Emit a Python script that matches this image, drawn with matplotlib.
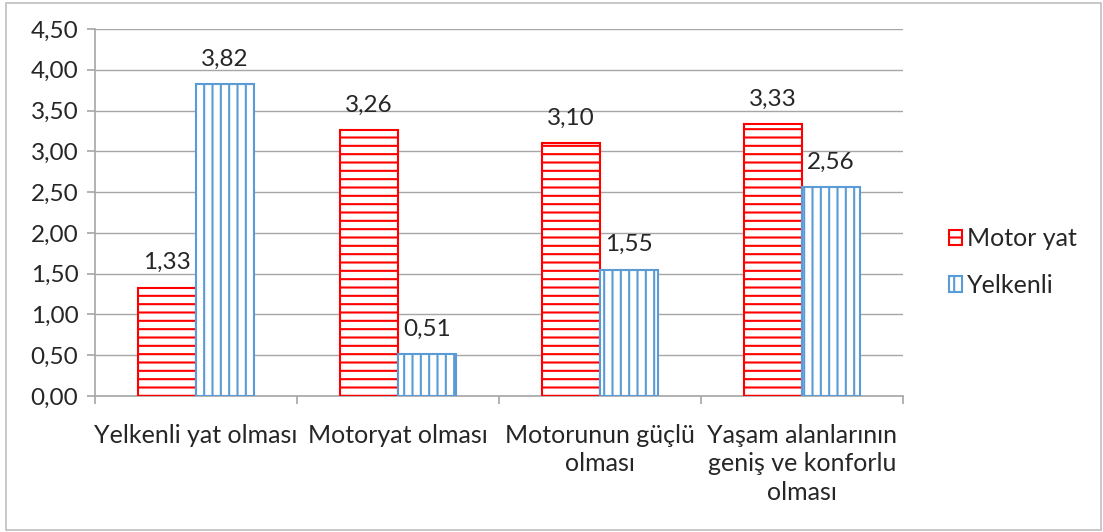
import matplotlib
matplotlib.use("Agg")
import matplotlib.pyplot as plt
from matplotlib.patches import Rectangle
from matplotlib.ticker import FuncFormatter, FixedLocator
import numpy as np

categories = ["Yelkenli yat olması", "Motoryat olması", "Motorunun güçlü\nolması",
              "Yaşam alanlarının\ngeniş ve konforlu\nolması"]
motor_yat = [1.33, 3.26, 3.10, 3.33]
yelkenli = [3.82, 0.51, 1.55, 2.56]
series_names = ["Motor yat", "Yelkenli"]

plt.rcParams['font.family'] = ['Lato', 'DejaVu Sans']
plt.rcParams['hatch.linewidth'] = 1.5

W, H = 1103, 532
fig = plt.figure(figsize=(W/100, H/100), dpi=100)
ax = fig.add_axes([95/W, 1-396/H, 808/W, (396-29)/H])

fig.patches.append(Rectangle((6/W, 2/H), (1101-6)/W, (529-2)/H, transform=fig.transFigure,
                             fill=False, edgecolor='#BFBFBF', lw=1.2))

x = np.arange(len(categories))
bw = 0.287
red = '#FF0000'
blue = '#5B9BD5'
b1 = ax.bar(x - bw/2, motor_yat, bw, facecolor='white', edgecolor=red, hatch='--', lw=1.5,
            label=series_names[0], zorder=3)
b2 = ax.bar(x + bw/2, yelkenli, bw, facecolor='white', edgecolor=blue, hatch='||', lw=1.5,
            label=series_names[1], zorder=3)

fmt = lambda v: f"{v:.2f}".replace('.', ',')
for rects, vals in ((b1, motor_yat), (b2, yelkenli)):
    for r, v in zip(rects, vals):
        ax.text(r.get_x() + r.get_width()/2, v + 0.18, fmt(v), ha='center', va='bottom',
                fontsize=17.5, color='#262626')

ax.set_xlim(-0.5, len(categories) - 0.5)
ax.set_ylim(0, 4.5)
ax.set_yticks(np.arange(0, 4.51, 0.5))
ax.yaxis.set_major_formatter(FuncFormatter(lambda v, p: fmt(v)))
ax.grid(axis='y', color='#A6A6A6', lw=1.0, zorder=0)
ax.set_axisbelow(True)

ax.xaxis.set_major_locator(FixedLocator(np.arange(-0.5, len(categories), 1.0)))
ax.xaxis.set_major_formatter(FuncFormatter(lambda v, p: ''))
ax.xaxis.set_minor_locator(FixedLocator(x))
ax.set_xticklabels(categories, minor=True)
ax.tick_params(axis='x', which='minor', length=0, labelsize=18, pad=20, labelcolor='#262626')
ax.tick_params(axis='x', which='major', length=6, color='#A6A6A6', width=1.2)
ax.tick_params(axis='y', length=6, color='#A6A6A6', width=1.2, labelsize=17.5, labelcolor='#262626', pad=6)
for lab in ax.get_xticklabels(minor=True):
    lab.set_linespacing(1.3)

for s in ['top', 'right']:
    ax.spines[s].set_visible(False)
for s in ['left', 'bottom']:
    ax.spines[s].set_color('#A6A6A6')
    ax.spines[s].set_linewidth(1.2)

leg = fig.legend(handles=[b1, b2], loc='center left', bbox_to_anchor=(926/W, 1-262/H),
                 frameon=False, fontsize=18, handlelength=0.55, handleheight=0.55,
                 handletextpad=0.2, labelspacing=0.95, labelcolor='#262626')

fig.savefig("out.png", dpi=100)
